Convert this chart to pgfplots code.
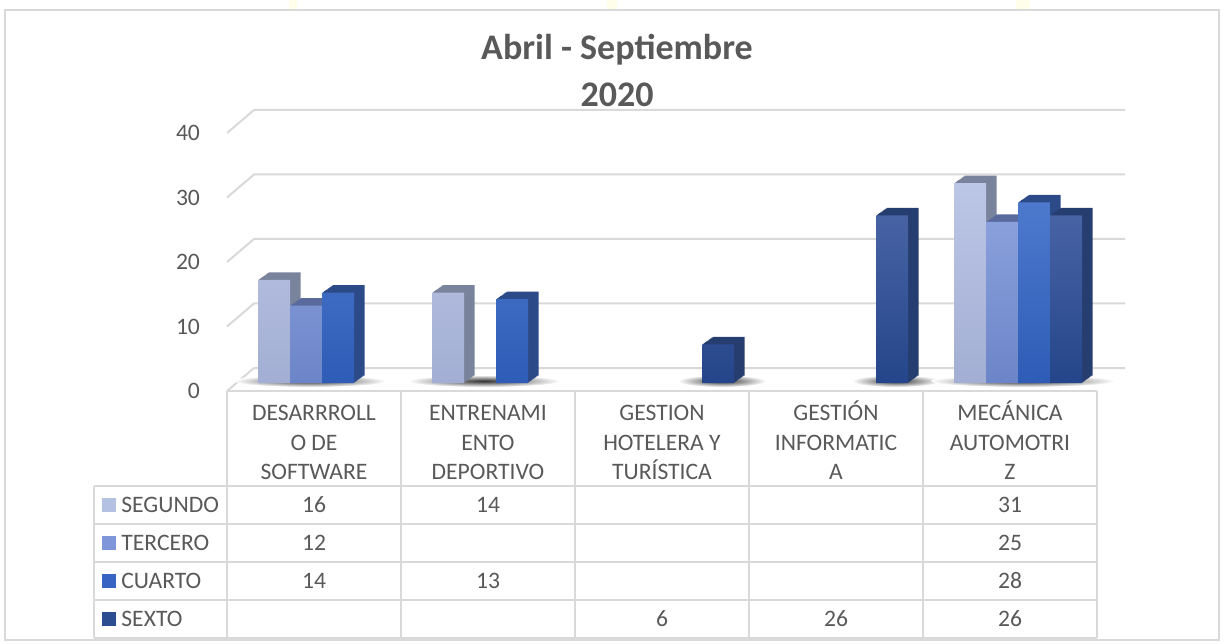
\documentclass[border=0pt]{standalone}
\usepackage{pgfplots}
\usepackage{pgfplotstable}
\pgfplotsset{compat=1.18}
\usepackage{fontspec}
\setmainfont{Carlito}

\definecolor{txt}{HTML}{595959}
\definecolor{gridc}{HTML}{D9D9D9}
\definecolor{segT}{HTML}{BCC6E6}
\definecolor{segB}{HTML}{A3AED4}
\definecolor{segD}{HTML}{7A839C}
\definecolor{terT}{HTML}{8AA0DC}
\definecolor{terB}{HTML}{6C85C8}
\definecolor{terD}{HTML}{5A6A9C}
\definecolor{cuaT}{HTML}{4D79CD}
\definecolor{cuaB}{HTML}{2E5CB6}
\definecolor{cuaD}{HTML}{2C4A88}
\definecolor{sexT}{HTML}{4763A4}
\definecolor{sexB}{HTML}{25458A}
\definecolor{sexD}{HTML}{263D70}
\definecolor{segL}{HTML}{B4C1E3}
\definecolor{terL}{HTML}{7F97D9}
\definecolor{cuaL}{HTML}{3865C3}
\definecolor{sexL}{HTML}{2C4D90}

% x = column (0..4), y = alumnos
\pgfplotstableread{
x y
0 16
1 14
4 31
}\segundo
\pgfplotstableread{
x y
0 12
4 25
}\tercero
\pgfplotstableread{
x y
0 14
1 13
4 28
}\cuarto
\pgfplotstableread{
x y
2 6
3 26
4 26
}\sexto

% bar with a fake depth: shifted darker copies, then the shaded front
\newcommand\cubebars[5]{%
  \pgfplotsinvokeforeach{1.0,0.9,0.8,0.7,0.6,0.5,0.4,0.3,0.2,0.1}{%
    \addplot[ybar, bar width=16pt, bar shift=#2, draw=none, fill=#5,
      xshift=##1*5.25pt, yshift=##1*3.75pt, forget plot] table[x=x,y=y] {#1};
  }%
  \addplot[ybar, bar width=16pt, bar shift=#2, draw=none,
    top color=#3, bottom color=#4, forget plot] table[x=x,y=y] {#1};
}

\begin{document}
\begin{tikzpicture}
\path[use as bounding box] (0,0) rectangle (612pt,321.5pt);

\begin{scope}[x=0.5pt, y=-0.5pt, shift={(0pt,321.5pt)}, font=\fontsize{11.8}{14}\selectfont, text=txt]
  % background marks above the frame
  \fill[yellow!8] (289,0) rectangle (297,9);
  \fill[yellow!8] (607,0) rectangle (617,9);
  \fill[yellow!8] (1016,0) rectangle (1030,9);
  % frame
  \draw[gridc, line width=0.8pt] (5,10) rectangle (1219,640);

  % title
  \node[anchor=base, font=\fontsize{18}{22}\selectfont\bfseries] at (617,60) {Abril - Septiembre};
  \node[anchor=base, font=\fontsize{18}{22}\selectfont\bfseries] at (617,107) {2020};

  % back wall and left wall grid
  \foreach \v in {0,10,20,30,40}{
    \draw[gridc, line width=1pt] (227,{391-6.45*\v}) -- (254,{368-6.45*\v}) -- (1125,{368-6.45*\v});
    \node[anchor=east] at (207,{391-6.45*\v}) {\v};
  }

  % floor shadows
  \foreach \cx/\hw in {310/76, 484/76, 722/44, 896/44, 1023/92}{
    \shade[inner color=black!80, outer color=white] (\cx,381) ellipse ({\hw*0.5pt} and 3pt);
  }

  % data table
  \draw[gridc, line width=1pt] (227,391) -- (1097,391);
  \foreach \ry in {486,524,562,600,638}{
    \draw[gridc, line width=1pt] (94,\ry) -- (1097,\ry);
  }
  \foreach \vx in {227,401,575,749,923,1097}{
    \draw[gridc, line width=1pt] (\vx,391) -- (\vx,638);
  }
  \draw[gridc, line width=1pt] (94,486) -- (94,638);

  \foreach \cx/\a/\b/\c in {314/DESARRROLL/O DE/SOFTWARE, 488/ENTRENAMI/ENTO/DEPORTIVO,
      662/GESTION/HOTELERA Y/TURÍSTICA, 836/GESTIÓN/INFORMATIC/A, 1010/MECÁNICA/AUTOMOTRI/Z}{
    \node[anchor=base] at (\cx,420) {\a};
    \node[anchor=base] at (\cx,450) {\b};
    \node[anchor=base] at (\cx,479) {\c};
  }
  \foreach \ry/\lab/\col in {505/SEGUNDO/segL, 543/TERCERO/terL, 581/CUARTO/cuaL, 619/SEXTO/sexL}{
    \fill[\col] (102,{\ry-7}) rectangle (116,{\ry+7});
    \node[anchor=base west, inner xsep=0pt] at (121,{\ry+7.5}) {\lab};
  }
  \foreach \cx/\ry/\val in {314/505/16, 488/505/14, 1010/505/31,
      314/543/12, 1010/543/25,
      314/581/14, 488/581/13, 1010/581/28,
      662/619/6, 836/619/26, 1010/619/26}{
    \node[anchor=base] at (\cx,{\ry+7.5}) {\val};
  }
\end{scope}

\begin{axis}[
  at={(117.5pt,130pt)}, anchor=south west,
  scale only axis, width=435pt, height=129pt,
  xmin=-0.5, xmax=4.5, ymin=0, ymax=40,
  hide axis, clip=false,
]
  \cubebars{\segundo}{-24pt}{segT}{segB}{segD}
  \cubebars{\tercero}{-8pt}{terT}{terB}{terD}
  \cubebars{\cuarto}{8pt}{cuaT}{cuaB}{cuaD}
  \cubebars{\sexto}{24pt}{sexT}{sexB}{sexD}
\end{axis}
\end{tikzpicture}
\end{document}
